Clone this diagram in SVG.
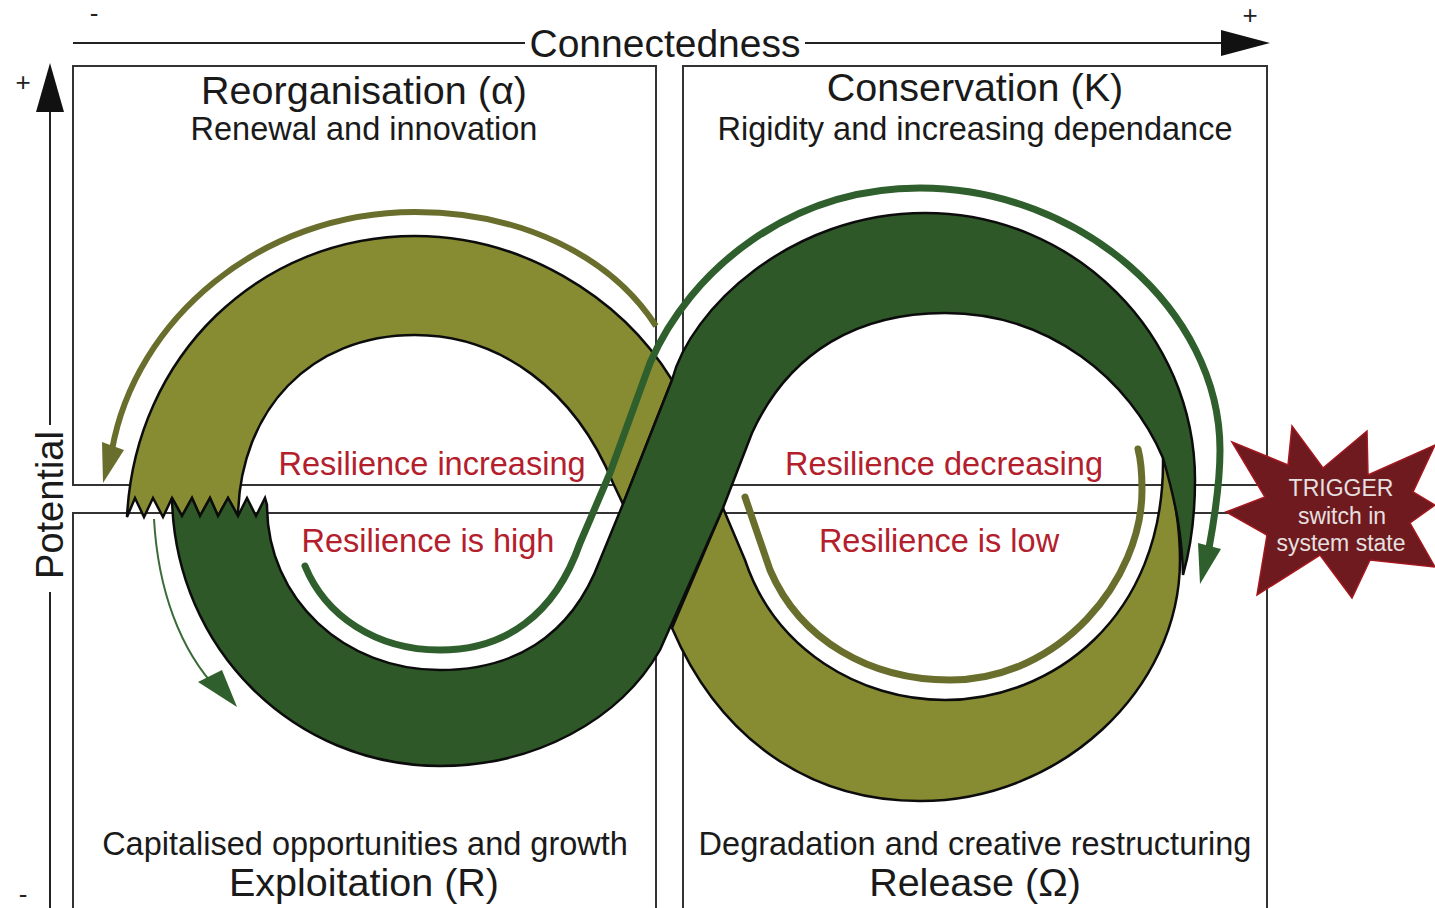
<svg xmlns="http://www.w3.org/2000/svg" width="1435" height="908" viewBox="0 0 1435 908">
<defs>
<style>
text{font-family:"Liberation Sans",Arial,sans-serif;text-anchor:middle}
.t{font-size:39.5px;fill:#1a1a1a}
.s{font-size:32.5px;fill:#1a1a1a}
.r{font-size:32.5px;fill:#b3202c}
.w{font-size:23px;fill:#e6e0e0}
.box{fill:none;stroke:#333;stroke-width:2}
.band{stroke:#0c0c0c;stroke-width:2.5;stroke-linejoin:miter}
.ol{fill:#878c33}
.dg{fill:#2f5829}
.axis{stroke:#222;stroke-width:2;fill:none}
</style>
</defs>
<rect width="1435" height="908" fill="#fff"/>
<g id="grid">
<rect class="box" x="73" y="66" width="583" height="419"/>
<rect class="box" x="683" y="66" width="584" height="419"/>
<rect class="box" x="73" y="513" width="583" height="400"/>
<rect class="box" x="683" y="513" width="584" height="400"/>
</g>
<g id="axes">
<path class="axis" d="M73 43H525M805 43H1225"/>
<polygon points="1221,30 1270,43 1221,56" fill="#111"/>
<path class="axis" d="M50 108V425M50 592V908"/>
<polygon points="36,112 50,63 64,112" fill="#111"/>
<text class="t" x="665" y="57" style="font-size:39px">Connectedness</text>
<text class="t" x="0" y="0" transform="translate(63,505) rotate(-90)" style="font-size:38px">Potential</text>
<text x="94" y="22" style="font-size:26px" fill="#222">-</text>
<text x="1250" y="24" style="font-size:26px" fill="#222">+</text>
<text x="23" y="91" style="font-size:26px" fill="#222">+</text>
<text x="23" y="903" style="font-size:26px" fill="#222">-</text>
</g>
<g id="band-release">
<path class="band ol" d="M723 508L745 560C775 650 860 700 945 700C1050 700 1165 620 1163 458C1175 490 1180 530 1180 560C1180 690 1060 801 920 801C810 801 720 740 672 628Z"/>
</g>
<g id="band-reorganisation">
<path class="band ol" d="M127 517C135 355 260 236 415 236C520 236 620 295 672 380L623 504L613 483C575 390 500 335 415 335C310 335 240 410 238 516L228 498L218 516L210 498L200 516L192 498L182 516L172 498L163 517L153 498L144 517L135 498Z"/>
</g>
<g id="band-exploitation">
<path class="band dg" d="M172 498L182 516L192 498L200 516L210 498L218 516L228 498L238 516L247 498L256 516L265 498L267 505C267 600 345 670 440 670C510 670 570 640 600 560L623 504L672 380C690 310 790 213 925 213C1075 213 1195 335 1195 480C1195 520 1190 550 1183 575C1182 540 1178 510 1163 458C1130 380 1050 313 945 313C860 313 790 350 752 433L723 508L660 650C620 720 535 766 440 766C295 766 175 650 172 498Z"/>
</g>
<g id="connectors" fill="none">
<path d="M656 326C610 255 520 212 415 212C260 212 135 320 112 450" stroke="#6a6e2c" stroke-width="6"/>
<polygon points="102,442 124,450 103,483" fill="#6a6e2c"/>
<path d="M305 566C325 615 375 650 440 650C505 650 555 615 580 543L610 473L650 363C690 270 790 188 920 188C1080 188 1220 310 1220 450C1220 480 1216 510 1209 548" stroke="#2f5f2c" stroke-width="7" stroke-linecap="round"/>
<polygon points="1198,543 1221,549 1200,584" fill="#2f5f2c"/>
<path d="M745 497L770 570C800 640 870 680 950 680C1060 680 1142 580 1142 490C1142 475 1141 460 1138 449" stroke="#6a6e2c" stroke-width="7" stroke-linecap="round"/>
<path d="M154 519C158 590 180 650 218 690" stroke="#3a6b38" stroke-width="2"/>
<polygon points="198,682 222,670 237,707" fill="#2f5f2c"/>
</g>
<g id="trigger">
<polygon points="1232,442 1288,465 1292,426 1323,468 1367,431 1368,475 1435,445 1413,492 1435,505 1410,523 1435,567 1370,560 1352,598 1320,555 1257,595 1267,535 1226,512 1265,497" fill="#6f1a1e" stroke="#a3171f" stroke-width="1.5"/>
<text class="w" x="1341" y="496">TRIGGER</text>
<text class="w" x="1342" y="524">switch in</text>
<text class="w" x="1341" y="551">system state</text>
</g>
<g id="quadrant-labels">
<text class="t" x="364" y="104">Reorganisation (α)</text>
<text class="s" x="364" y="140">Renewal and innovation</text>
<text class="t" x="975" y="101">Conservation (K)</text>
<text class="s" x="975" y="140">Rigidity and increasing dependance</text>
<text class="s" x="365" y="855">Capitalised opportunities and growth</text>
<text class="t" x="364" y="896">Exploitation (R)</text>
<text class="s" x="975" y="855">Degradation and creative restructuring</text>
<text class="t" x="975" y="896">Release (Ω)</text>
</g>
<g id="resilience-labels">
<text class="r" x="432" y="475">Resilience increasing</text>
<text class="r" x="428" y="552">Resilience is high</text>
<text class="r" x="944" y="475">Resilience decreasing</text>
<text class="r" x="939" y="552">Resilience is low</text>
</g>
</svg>
